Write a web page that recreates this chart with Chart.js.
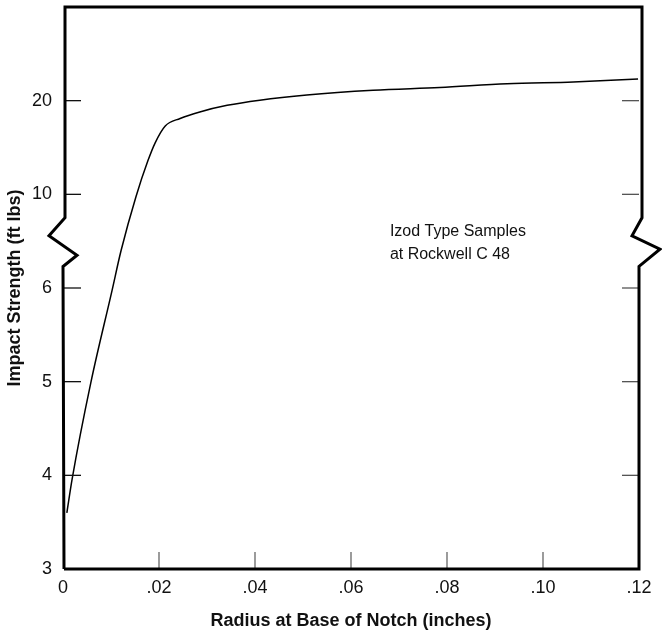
<!DOCTYPE html>
<html>
<head>
<meta charset="utf-8">
<script src="https://cdn.jsdelivr.net/npm/chart.js@4.4.1/dist/chart.umd.min.js"></script>
<style>
  html, body { margin: 0; padding: 0; background: #fff; }
  #wrap { width: 662px; height: 633px; }
</style>
</head>
<body>
<div id="wrap"><canvas id="c" width="662" height="633"></canvas></div>
<script>
// Notch radius (inches) and Izod impact strength (ft lbs)
const radius = [0.0008, 0.0019, 0.0058, 0.0102, 0.0121, 0.0152, 0.0177, 0.0192, 0.0213, 0.0244, 0.0285, 0.0342, 0.041, 0.0508, 0.0646, 0.0785, 0.0925, 0.1063, 0.1198];
const strength = [3.60, 3.96, 4.99, 5.97, 7.6, 9.9, 13.6, 15.5, 17.3, 18.1, 18.8, 19.5, 20.05, 20.6, 21.1, 21.4, 21.8, 22.0, 22.3];

// Tick labels
const xTickValues = [0, 0.02, 0.04, 0.06, 0.08, 0.10, 0.12];
const xTickLabels = ['0', '.02', '.04', '.06', '.08', '.10', '.12'];
const yTickValues = [3, 4, 5, 6, 10, 20];
const yTickLabels = ['3', '4', '5', '6', '10', '20'];

// Broken strength axis: each labelled value sits one step above the previous,
// values in between are placed linearly between their neighbours.
const yBreaks = [3, 4, 5, 6, 10, 20, 30];
function toPos(v) {
  for (let i = 0; i < yBreaks.length - 1; i++) {
    const a = yBreaks[i], b = yBreaks[i + 1];
    if (v <= b || i === yBreaks.length - 2) return i + (v - a) / (b - a);
  }
}

const FONT = "'Liberation Sans Narrow', 'Liberation Sans', Arial, sans-serif";
const points = radius.map((r, i) => ({ x: r, y: toPos(strength[i]) }));

const framePlugin = {
  id: 'frame',
  afterDatasetsDraw(chart) {
    const { ctx, chartArea: a, scales: { x, y } } = chart;
    const L = a.left, R = a.right, T = a.top, B = a.bottom;
    const bTop = y.getPixelForValue(3.75), bBot = y.getPixelForValue(3.23);
    const bMid1 = bTop + (bBot - bTop) * 0.37, bMid2 = bTop + (bBot - bTop) * 0.77;
    ctx.save();
    // inner tick marks
    ctx.lineWidth = 1.3;
    yTickValues.forEach((v, i) => {
      if (i === 0) return;
      const py = y.getPixelForValue(toPos(v));
      ctx.strokeStyle = '#111';
      ctx.beginPath(); ctx.moveTo(L + 1, py); ctx.lineTo(L + 18, py); ctx.stroke();
      ctx.strokeStyle = '#555';
      ctx.beginPath(); ctx.moveTo(R - 17, py); ctx.lineTo(R, py); ctx.stroke();
    });
    ctx.strokeStyle = '#666';
    xTickValues.forEach((v, i) => {
      if (i === 0 || i === xTickValues.length - 1) return;
      const px = x.getPixelForValue(v);
      ctx.beginPath(); ctx.moveTo(px, B); ctx.lineTo(px, B - 17); ctx.stroke();
    });
    // frame with axis breaks
    ctx.strokeStyle = '#000';
    ctx.lineWidth = 3;
    ctx.lineJoin = 'miter';
    ctx.beginPath();
    ctx.moveTo(L + 1, B);
    ctx.lineTo(L, bBot);
    ctx.lineTo(L + 14, bMid2);
    ctx.lineTo(L - 14, bMid1);
    ctx.lineTo(L + 2, bTop);
    ctx.lineTo(L + 2, T);
    ctx.lineTo(R + 3, T);
    ctx.lineTo(R + 3, bTop);
    ctx.lineTo(R - 7, bMid1);
    ctx.lineTo(R + 21, bMid2 - 6);
    ctx.lineTo(R, bBot);
    ctx.lineTo(R, B);
    ctx.lineTo(L + 1, B);
    ctx.stroke();
    // note
    ctx.fillStyle = '#111';
    ctx.font = "16px " + FONT;
    ctx.textAlign = 'left';
    ctx.textBaseline = 'middle';
    const nx = x.getPixelForValue(0.0681);
    const ny = y.getPixelForValue(3.6);
    ctx.fillText('Izod Type Samples', nx, ny);
    ctx.fillText('at Rockwell C 48', nx, ny + 23);
    ctx.restore();
  }
};

new Chart(document.getElementById('c'), {
  type: 'line',
  data: {
    datasets: [{
      data: points,
      borderColor: '#000',
      borderWidth: 1.5,
      pointRadius: 0,
      fill: false,
      cubicInterpolationMode: 'monotone'
    }]
  },
  options: {
    responsive: false,
    animation: false,
    events: [],
    layout: { padding: { top: 7, right: 23, left: 0, bottom: 0 } },
    plugins: { legend: { display: false }, tooltip: { enabled: false } },
    scales: {
      x: {
        type: 'linear',
        min: 0, max: 0.12,
        afterBuildTicks: s => { s.ticks = xTickValues.map(v => ({ value: v })); },
        afterFit: s => { s.height = 64; s.paddingLeft = 0; s.paddingRight = 0; },
        grid: { display: false, drawTicks: false },
        border: { display: false },
        ticks: {
          padding: 8,
          color: '#111',
          font: { family: FONT, size: 18 },
          maxRotation: 0,
          callback: (v) => xTickLabels[xTickValues.findIndex(t => Math.abs(t - v) < 1e-9)]
        },
        title: {
          display: true,
          text: 'Radius at Base of Notch (inches)',
          color: '#111',
          font: { family: FONT, size: 18, weight: 'bold' },
          padding: { top: 4, bottom: 1 }
        }
      },
      y: {
        type: 'linear',
        min: 0, max: 6,
        afterBuildTicks: s => { s.ticks = yTickValues.map(v => ({ value: toPos(v) })); },
        afterFit: s => { s.width = 63; s.paddingTop = 0; s.paddingBottom = 0; },
        grid: { display: false, drawTicks: false },
        border: { display: false },
        ticks: {
          padding: 11,
          color: '#111',
          font: { family: FONT, size: 18 },
          callback: (v) => yTickLabels[Math.round(v)]
        },
        title: {
          display: true,
          text: 'Impact Strength (ft lbs)',
          color: '#111',
          font: { family: FONT, size: 18, weight: 'bold' },
          padding: { top: 4, bottom: 4 }
        }
      }
    }
  },
  plugins: [framePlugin]
});
</script>
</body>
</html>
